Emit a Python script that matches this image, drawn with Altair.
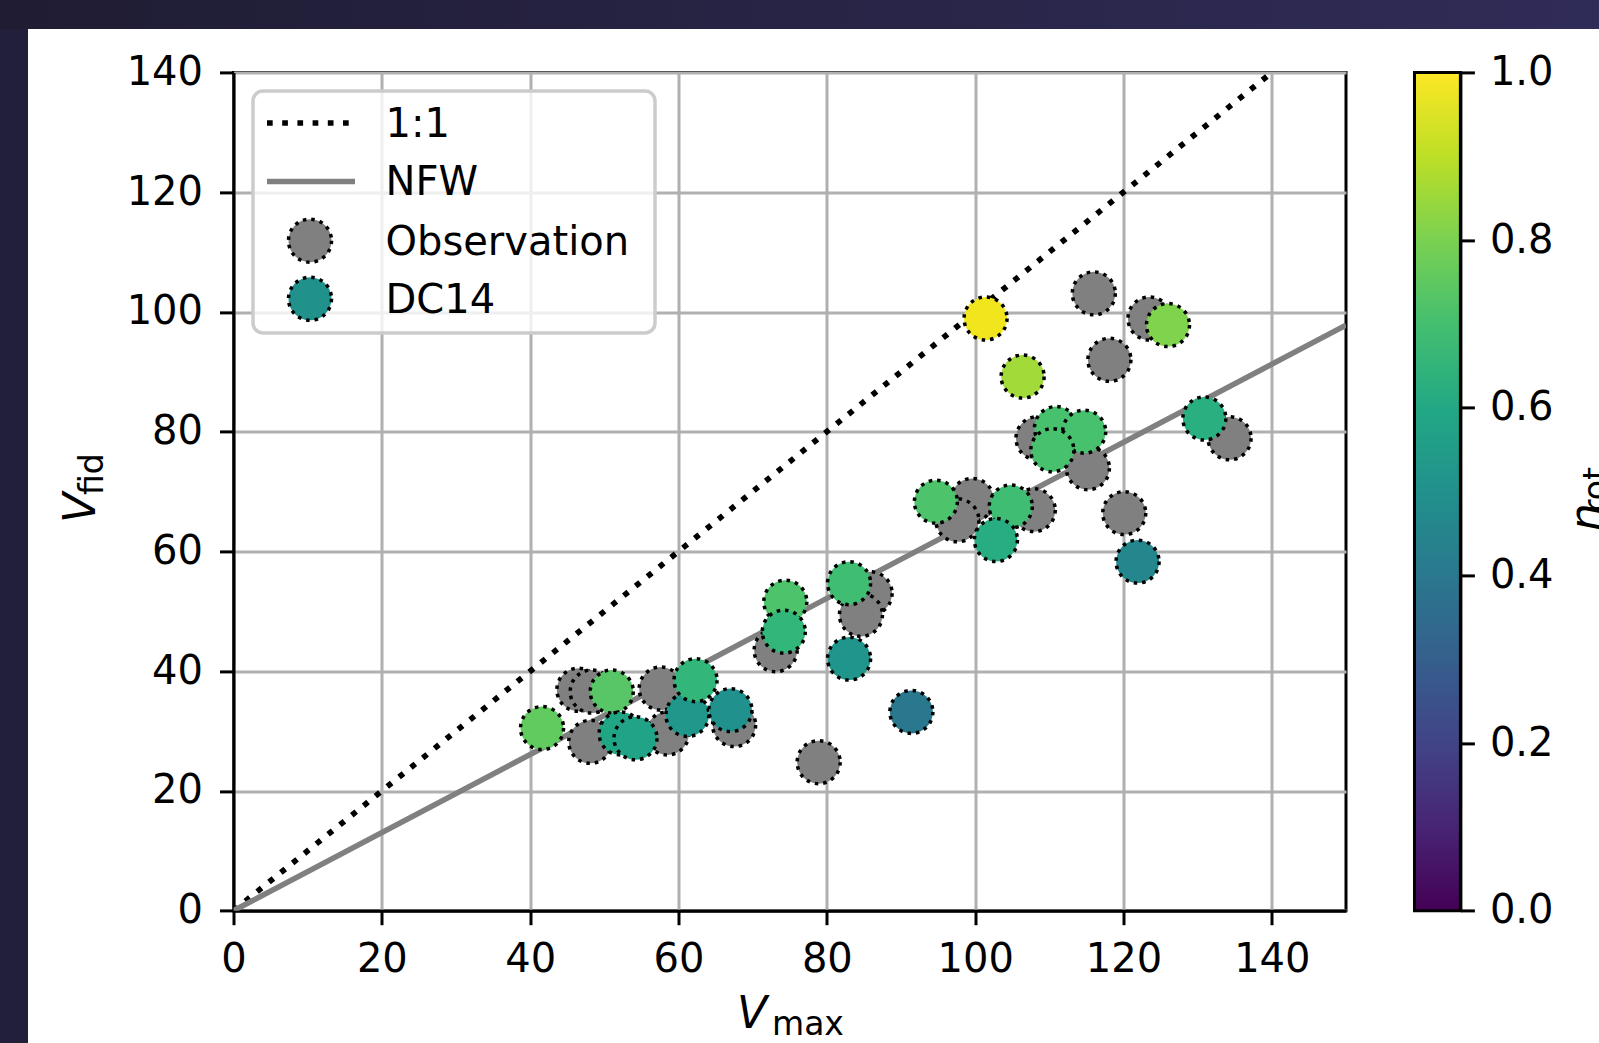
import altair as alt
import pandas as pd

# ---------------- data ----------------
obs_vmax = [116.0, 123.5, 118.1, 108.4, 115.2, 134.3, 120.1, 107.9, 99.6, 97.6,
            85.9, 84.6, 73.1, 78.9, 46.5, 48.3, 57.6, 48.1, 58.5, 67.5]
obs_vfid = [103.1, 98.9, 92.0, 78.9, 73.9, 78.9, 66.4, 66.9, 68.6, 65.2,
            53.0, 49.4, 43.5, 24.8, 36.9, 36.6, 37.1, 28.2, 29.6, 31.0]

dc_vmax = [41.6, 51.0, 52.2, 54.2, 61.2, 62.3, 67.0, 74.4, 74.2, 83.0, 83.0, 91.4,
           94.7, 101.4, 106.4, 104.8, 102.8, 110.9, 114.7, 110.4, 126.0, 130.9, 121.9]
dc_vfid = [30.5, 36.6, 29.6, 28.8, 32.7, 38.5, 33.5, 51.6, 46.6, 54.7, 42.1, 33.2,
           68.3, 98.9, 89.2, 67.5, 61.9, 80.6, 80.0, 76.9, 97.8, 82.2, 58.3]
dc_eta = [0.76, 0.74, 0.59, 0.58, 0.53, 0.66, 0.50, 0.72, 0.66, 0.69, 0.52, 0.40,
          0.72, 0.98, 0.86, 0.69, 0.62, 0.71, 0.71, 0.71, 0.81, 0.63, 0.46]

one_x = [0, 140]
one_y = [0, 140]
nfw_x = [0, 150]
nfw_y = [0, 97.8]

x_ticks = [0, 20, 40, 60, 80, 100, 120, 140]
y_ticks = [0, 20, 40, 60, 80, 100, 120, 140]
eta_ticks = [0.0, 0.2, 0.4, 0.6, 0.8, 1.0]
legend_labels = ["1:1", "NFW", "Observation", "DC14"]

viridis = ["#440154", "#482475", "#414487", "#355f8d", "#2a788e", "#21918c",
           "#22a884", "#44bf70", "#7ad151", "#bddf26", "#fde725"]

# ---------------- layout ----------------
W, H = 1112.5, 838.3
FONT = "DejaVu Sans"
FS = 40

obs_df = pd.DataFrame({"vmax": obs_vmax, "vfid": obs_vfid})
dc_df = pd.DataFrame({"vmax": dc_vmax, "vfid": dc_vfid, "eta": dc_eta})
one_df = pd.DataFrame({"vmax": one_x, "vfid": one_y})
nfw_df = pd.DataFrame({"vmax": nfw_x, "vfid": nfw_y})
eta_df = pd.DataFrame({"eta": eta_ticks})
dummy = pd.DataFrame({"a": [0]})

x_scale = alt.Scale(domain=[0, 150], nice=False, zero=False)
y_scale = alt.Scale(domain=[0, 140], nice=False, zero=False)

axis_common = dict(title=None, grid=True, gridColor="#b0b0b0", gridWidth=3,
                   domainColor="black", domainWidth=3, tickColor="black",
                   tickWidth=3, tickSize=14, labelFontSize=FS, labelFont=FONT,
                   labelColor="black", labelFlush=False, labelOverlap=False)
x_axis = alt.Axis(values=x_ticks, labelPadding=15, **axis_common)
y_axis = alt.Axis(values=y_ticks, labelPadding=17, **axis_common)

X = alt.X("vmax:Q", scale=x_scale, axis=x_axis)
Y = alt.Y("vfid:Q", scale=y_scale, axis=y_axis)

line11 = alt.Chart(one_df).mark_line(
    color="black", strokeWidth=5.7, strokeDash=[5.7, 9.5], strokeCap="butt", clip=True
).encode(x=X, y=Y)

nfw = alt.Chart(nfw_df).mark_line(color="#808080", strokeWidth=5.5, clip=True).encode(x=X, y=Y)

marker_style = dict(size=1850, opacity=1, stroke="black", strokeWidth=3.5,
                    strokeDash=[3.5, 5])

obs = alt.Chart(obs_df).mark_circle(color="#808080", **marker_style).encode(x=X, y=Y)

dc = alt.Chart(dc_df).mark_circle(**marker_style).encode(
    x=X, y=Y,
    color=alt.Color("eta:Q", scale=alt.Scale(scheme="viridis", domain=[0, 1]), legend=None),
)

# ---------------- legend box ----------------
legend_layers = []
legend_layers.append(
    alt.Chart(dummy).mark_rect(fill="white", fillOpacity=0.8, stroke="#cccccc",
                               strokeWidth=3.5, cornerRadius=10).encode(
        x=alt.value(19.5), x2=alt.value(421.5), y=alt.value(18.6), y2=alt.value(260.6))
)
legend_layers.append(
    alt.Chart(dummy).mark_rule(color="black", strokeWidth=5.7, strokeDash=[5.7, 9.5],
                               strokeCap="butt").encode(
        x=alt.value(33.5), x2=alt.value(121.5), y=alt.value(50.6))
)
legend_layers.append(
    alt.Chart(dummy).mark_rule(color="#808080", strokeWidth=5.5).encode(
        x=alt.value(33.5), x2=alt.value(121.5), y=alt.value(109))
)
legend_layers.append(
    alt.Chart(dummy).mark_circle(color="#808080", **marker_style).encode(
        x=alt.value(76.5), y=alt.value(168.3))
)
legend_layers.append(
    alt.Chart(dummy).mark_circle(color=viridis[5], **marker_style).encode(
        x=alt.value(76.5), y=alt.value(226.4))
)
for lab, yy in zip(legend_labels, [50.6, 109, 168.3, 226.4]):
    legend_layers.append(
        alt.Chart(pd.DataFrame({"label": [lab]})).mark_text(
            align="left", baseline="middle", font=FONT, fontSize=FS, color="black", dy=2
        ).encode(text="label:N", x=alt.value(152), y=alt.value(yy))
    )

# ---------------- colorbar ----------------
cbar = alt.Chart(dummy).mark_rect(
    fill=alt.LinearGradient(
        gradient="linear",
        stops=[alt.GradientStop(color=c, offset=i / 10) for i, c in enumerate(viridis)],
        x1=0, x2=0, y1=1, y2=0),
    stroke="black", strokeWidth=3,
).encode(x=alt.value(1181), x2=alt.value(1226.9), y=alt.value(0), y2=alt.value(H))

# ---------------- decorative dark frame ----------------
band_grad = alt.LinearGradient(
    gradient="linear",
    stops=[alt.GradientStop(color="#1f1c33", offset=0),
           alt.GradientStop(color="#302c58", offset=1)],
    x1=0, x2=1, y1=0, y2=0)
top_band = alt.Chart(dummy).mark_rect(fill=band_grad).encode(
    x=alt.value(-233.5), x2=alt.value(1365.5), y=alt.value(-72.4), y2=alt.value(-43.4))
left_band = alt.Chart(dummy).mark_rect(fill="#221f3a").encode(
    x=alt.value(-233.5), x2=alt.value(-205.5), y=alt.value(-43.4), y2=alt.value(970.6))

# ---------------- axis titles (with subscripts) ----------------
def txt(s, x, y, size, italic=False, angle=0):
    kw = dict(align="left", baseline="alphabetic", font=FONT, fontSize=size, color="black")
    if italic:
        kw["fontStyle"] = "italic"
    if angle:
        kw["angle"] = angle
    return alt.Chart(pd.DataFrame({"t": [s]})).mark_text(**kw).encode(
        text="t:N", x=alt.value(x), y=alt.value(y))

titles = [
    txt("V", 503.5, 955.6, 44, italic=True),
    txt("max", 538.5, 962.6, 33),
    txt("V", -138.5, 450.6, 44, italic=True, angle=270),
    txt("fid", -130.5, 422.6, 33, angle=270),
    txt("η", 1367.5, 459.6, 44, italic=True, angle=270),
    txt("rot", 1373.5, 440.6, 33, angle=270),
]

main = alt.layer(top_band, left_band, line11, nfw, obs, dc, *legend_layers, cbar, *titles)

eta_layer = alt.Chart(eta_df).mark_point(opacity=0).encode(
    y=alt.Y("eta:Q", scale=alt.Scale(domain=[0, 1], nice=False),
            axis=alt.Axis(orient="right", offset=114.4, values=eta_ticks, format=".1f",
                          title=None, grid=False, domain=True, domainColor="black",
                          domainWidth=3, tickColor="black", tickWidth=3, tickSize=14,
                          labelFontSize=FS, labelFont=FONT, labelColor="black",
                          labelPadding=15, labelFlush=False, labelOverlap=False))
)

chart = alt.layer(main, eta_layer).resolve_scale(y="independent").properties(
    width=W, height=H,
    autosize=alt.AutoSizeParams(type="none"),
    padding={"left": 233.5, "top": 72.4, "right": 253, "bottom": 132.3},
    background="white",
).configure_view(stroke="black", strokeWidth=3)

chart.save("out.html", embed_options={"renderer": "svg", "actions": False})
